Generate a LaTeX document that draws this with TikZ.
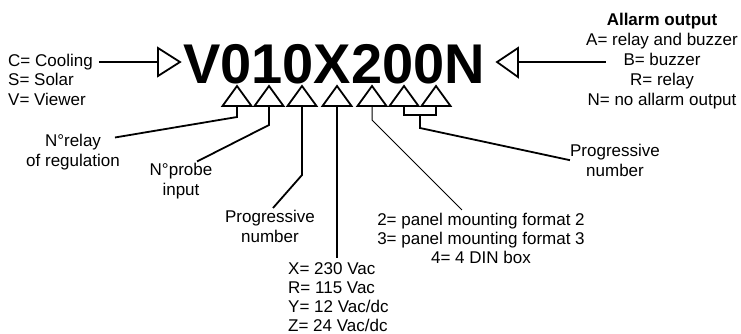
\documentclass[tikz,border=0pt]{standalone}
\usepackage{fontspec}
\setmainfont{Liberation Sans}
\usetikzlibrary{positioning}

\tikzset{
  code text/.style={inner sep=0pt, font=\fontsize{56}{60}\selectfont\bfseries},
  note/.style={inner sep=0pt, align=center, font=\fontsize{17}{19.5}\selectfont},
  keytri/.style={draw, line width=1.8pt, line join=miter},
  lead/.style={line width=1.8pt},
  thinlead/.style={line width=1pt},
}

\begin{document}
\begin{tikzpicture}[x=1pt,y=-1pt,line cap=butt,line join=miter]
	\useasboundingbox (0,0) rectangle (741,333);

	% code string
	\node[code text,anchor=base west] (code) at (183,83) {V010X200N};

	% markers under the code
	\foreach \i/\x in {1/237,2/269,3/302,4/337,5/372,6/404,7/436}{
		\draw[keytri] (\x,86) -- (\x-14.5,106) -- (\x+14.5,106) -- cycle;
		\coordinate (t\i) at (\x,106);
	}
	\coordinate (brk) at (420,115);

	% side markers
	\draw[keytri] (158,48) -- (180,62) -- (158,76) -- cycle;
	\coordinate (inL) at (158,62);
	\draw[keytri] (518,48) -- (497,62) -- (518,77) -- cycle;
	\coordinate (inR) at (518,62);

	% texts (placed by the baseline of their last line)
	\node[note,align=left,anchor=base west] (family) at (8,105) {C= Cooling\\S= Solar\\V= Viewer};
	\node[note,anchor=base,font=\fontsize{17}{20}\selectfont] (alarm) at (662,105)
		{\textbf{Allarm output}\\A= relay and buzzer\\B= buzzer\\R= relay\\N= no allarm output};
	\node[note,anchor=base] (relay) at (73,166) {N°relay\\of regulation};
	\node[note,anchor=base] (probe) at (181,195) {N°probe\\input};
	\node[note,anchor=base] (progA) at (270,242) {Progressive\\number};
	\node[note,align=left,anchor=base west,font=\fontsize{17}{19}\selectfont] (supply) at (288,331)
		{X= 230 Vac\\R= 115 Vac\\Y= 12 Vac/dc\\Z= 24 Vac/dc};
	\node[note,anchor=base,font=\fontsize{17}{19}\selectfont] (format) at (481,263)
		{2= panel mounting format 2\\3= panel mounting format 3\\4= 4 DIN box};
	\node[note,anchor=base] (progB) at (615,176) {Progressive\\number};

	% leaders
	\draw[lead] (family.east |- inL) ++(6,0) -- (inL);
	\draw[lead] (inR) -- ++(88,0);
	\draw[lead] (t1) -- ++(0,11) -- ([xshift=-5pt,yshift=-3.5pt]relay.north east);
	\draw[lead] (t2) -- ++(0,19) -- ([xshift=16pt,yshift=1.5pt]probe.north);
	\draw[lead] (t3) -- ++(0,69) -- ([xshift=3pt,yshift=2pt]progA.north);
	\draw[lead] (t4) -- ([yshift=4pt]t4 |- supply.north);
	\draw[thinlead] (t5) -- ++(0,14) -- ([xshift=-19pt,yshift=2.5pt]format.north);
	\draw[lead] (t6) -- ++(0,9) -| (t7);
	\draw[lead] (brk) -- ++(0,13) -- (progB.west);
\end{tikzpicture}
\end{document}
